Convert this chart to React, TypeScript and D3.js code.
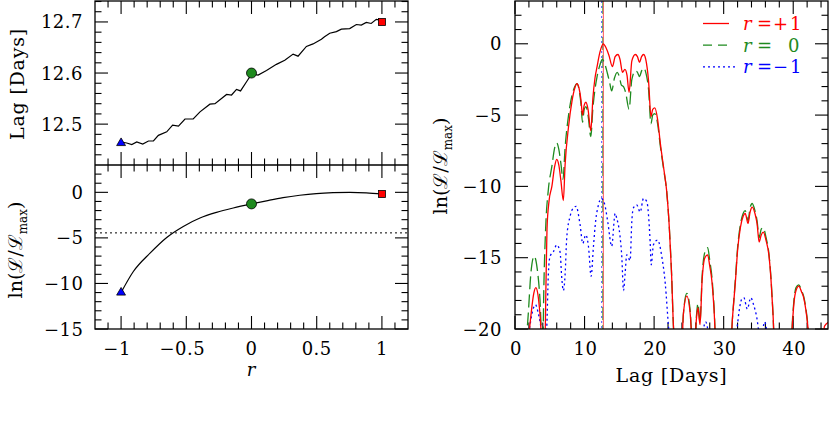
import React from 'react';
import * as d3 from 'd3';

// ---- left, upper panel: best lag as a function of r
const rTop = [-1, -0.957, -0.918, -0.88, -0.834, -0.79, -0.752, -0.714, -0.65, -0.605,
  -0.56, -0.51, -0.447, -0.395, -0.319, -0.28, -0.191, -0.153, -0.115, -0.084,
  -0.038, 0, 0.051, 0.115, 0.191, 0.255, 0.319, 0.357, 0.421, 0.472,
  0.536, 0.56, 0.6, 0.651, 0.689, 0.753, 0.804, 0.842, 0.88, 0.918, 0.957, 1];
const lagTop = [12.465, 12.463, 12.46, 12.465, 12.461, 12.467, 12.467, 12.478, 12.485, 12.498,
  12.496, 12.51, 12.51, 12.524, 12.539, 12.54, 12.558, 12.557, 12.568, 12.565,
  12.583, 12.598, 12.596, 12.605, 12.617, 12.625, 12.637, 12.633, 12.652, 12.657,
  12.666, 12.671, 12.678, 12.681, 12.686, 12.687, 12.695, 12.694, 12.699, 12.697, 12.705, 12.703];

// ---- left, lower panel: ln(L/Lmax) as a function of r
const rBot = [-1, -0.906, -0.778, -0.65, -0.523, -0.395, -0.268, -0.14, 0, 0.115, 0.242, 0.37, 0.497, 0.625, 0.753, 0.88, 1];
const lnLBot = [-11.0, -8.69, -6.67, -4.95, -3.74, -2.82, -2.2, -1.72, -1.27, -0.93, -0.58, -0.32, -0.14, -0.04, 0, -0.05, -0.18];
const cutLevel = -4.45;

// markers at r = -1, 0, +1
const markR = [-1, 0, 1];
const markLag = [12.463, 12.6, 12.7];
const markLnL = [-11.0, -1.27, -0.18];

// ---- right panel: ln(L/Lmax) vs lag for three r
const redLag = [1.9, 2.3, 2.7, 3.0, 3.3, 3.6, 3.9, 4.3, 4.45, 4.6, 4.9, 5.3, 5.7, 6.0, 6.3, 6.6, 6.95, 7.2, 7.7, 8.2,
  8.6, 8.9, 9.2, 9.5, 9.7, 9.95, 10.2, 10.5, 10.9, 11.2, 11.5, 11.8, 12.2, 12.7, 13.1, 13.5, 14.0, 14.4, 14.8, 15.1,
  15.45, 15.8, 16.1, 16.4, 16.8, 17.3, 17.6, 17.9, 18.2, 18.5, 18.8, 19.2, 19.55, 19.8, 20.1, 20.5, 20.9, 21.4, 21.8, 22.2,
  22.5, 22.8, 23.0, 24.0, 24.2, 24.7, 25.2, 25.5, 25.8, 26.1, 26.3, 26.6, 26.9, 27.3, 27.7, 28.0, 28.3, 28.6, 28.9, 31.0,
  31.3, 31.7, 32.0, 32.4, 32.8, 33.1, 33.5, 33.8, 34.1, 34.5, 34.8, 35.1, 35.4, 35.7, 36.1, 36.5, 36.8, 37.1, 37.3, 39.7,
  39.9, 40.1, 40.4, 40.8, 41.2, 41.5, 41.8, 42.1, 42.3, 44.2, 44.5, 45.2];
const redVal = [-21, -19, -17.5, -17.1, -17.6, -19, -21, -21, -17, -13, -11, -10.0, -8.6, -8.1, -8.5, -9.6, -11.0, -8.5, -5.8, -4.0,
  -3.1, -2.8, -3.1, -4.0, -5.0, -4.3, -4.1, -4.6, -6.1, -3.8, -2.4, -1.6, -0.6, 0, -0.3, -0.8, -1.6, -0.9, -0.75, -1.1,
  -2.0, -1.8, -2.2, -3.4, -1.2, -0.75, -0.9, -1.3, -0.9, -0.75, -1.1, -2.6, -5.1, -4.6, -4.5, -5.3, -7.0, -8.8, -10.3, -13,
  -16, -20, -21, -21, -19, -17.7, -19, -21, -21, -19.2, -18.5, -19.7, -16.6, -15.0, -14.8, -15.6, -16.6, -18.5, -21, -21,
  -19, -16.6, -14.5, -12.9, -12.1, -11.9, -12.6, -11.8, -11.45, -11.9, -12.6, -13.9, -13.4, -13.2, -13.8, -14.8, -16.5, -19, -21, -21,
  -19.5, -18.2, -17.3, -17.0, -17.4, -17.8, -18.6, -19.8, -21, -21, -19.8, -19.5];

const greenLag = [1.6, 1.9, 2.3, 2.75, 3.2, 3.6, 3.9, 4.0, 4.15, 4.4, 4.8, 5.3, 5.7, 6.0, 6.3, 6.6, 6.9, 7.2, 7.7, 8.2,
  8.6, 8.9, 9.2, 9.5, 9.7, 9.95, 10.2, 10.5, 10.9, 11.2, 11.5, 11.8, 12.2, 12.55, 12.9, 13.3, 13.6, 13.9, 14.3, 14.7,
  15.0, 15.3, 15.6, 15.9, 16.4, 16.8, 17.3, 17.6, 17.9, 18.2, 18.5, 18.8, 19.2, 19.55, 19.8, 20.1, 20.5, 20.9, 21.4, 21.8,
  22.2, 22.5, 22.8, 23.0, 24.0, 24.2, 24.7, 25.2, 25.5, 25.8, 26.1, 26.3, 26.6, 26.9, 27.3, 27.7, 28.0, 28.3, 28.6, 28.9,
  31.0, 31.3, 31.7, 32.0, 32.4, 32.8, 33.1, 33.5, 33.8, 34.1, 34.5, 34.8, 35.1, 35.4, 35.7, 36.1, 36.5, 36.8, 37.1, 37.3,
  39.7, 39.9, 40.1, 40.4, 40.8, 41.2, 41.5, 41.8, 42.1, 42.3];
const greenVal = [-21, -19, -16, -14.9, -15.8, -18, -21, -21, -17, -13, -10.2, -8.6, -7.3, -6.95, -7.4, -8.4, -9.5, -7.3, -5.0, -3.6,
  -3.0, -2.8, -3.2, -4.3, -5.5, -4.6, -4.4, -5.0, -6.5, -4.5, -3.2, -2.3, -1.5, -1.1, -1.4, -2.1, -2.7, -3.3, -2.4, -2.0,
  -2.3, -2.9, -3.0, -3.4, -4.6, -2.5, -1.9, -2.0, -2.3, -1.9, -1.7, -2.0, -3.2, -5.6, -5.0, -4.9, -5.6, -7.2, -8.9, -10.3,
  -13, -16, -20, -21, -21, -19, -17.5, -18.8, -21, -21, -19, -18.2, -19.5, -16.3, -14.6, -14.3, -15.2, -16.3, -18.3, -21,
  -21, -19, -16.4, -14.3, -12.7, -11.9, -11.7, -12.4, -11.5, -11.2, -11.7, -12.4, -13.6, -13.0, -12.9, -13.6, -14.7, -16.4, -19, -21,
  -21, -19.3, -18.0, -17.1, -16.9, -17.3, -17.7, -18.5, -19.7, -21];

const blueLag = [1.8, 2.2, 2.6, 2.95, 3.3, 3.7, 4.0, 4.45, 4.56, 4.8, 5.04, 5.5, 6.0, 6.48, 6.72, 6.96, 7.2, 7.44, 7.92, 8.4,
  8.78, 9.36, 9.74, 10.17, 10.56, 10.94, 11.28, 11.6, 12.0, 12.38, 12.86, 13.34, 13.9, 14.4, 14.63, 15.1, 15.35, 15.6, 15.83, 16.07,
  16.55, 16.8, 17.03, 17.5, 18.0, 18.47, 18.95, 19.43, 19.58, 19.9, 20.5, 21.1, 21.6, 22.1, 22.3, 26.8, 27.1, 27.4, 27.7, 27.9,
  31.6, 31.9, 32.3, 32.6, 32.9, 33.4, 33.9, 34.3, 34.8, 35.1, 35.4, 35.9, 36.2, 36.4];
const blueVal = [-21, -19.6, -18.6, -18.3, -18.8, -19.8, -21, -21, -20, -16.1, -14.9, -14.6, -14.1, -14.6, -16.4, -17.3, -16.2, -13.6, -12.1, -11.5,
  -11.4, -12.7, -14.0, -13.4, -14.2, -16.3, -14.2, -12.4, -11.3, -10.84, -11.2, -12.5, -14.2, -11.9, -12.24, -13.5, -14.9, -17.3, -16.1, -14.8,
  -15.2, -12.4, -11.5, -11.3, -11.8, -10.84, -11.07, -13.9, -15.5, -14.1, -13.76, -14.9, -16.8, -20, -21, -21, -20.0, -19.5, -20.0, -21,
  -21, -20, -18.5, -17.9, -17.8, -18.6, -17.8, -18.3, -19.3, -20.3, -20.5, -19.5, -20.2, -21];

// best lags marked by vertical lines
const bestLags = [12.7, 12.6, 12.46];

const seriesColors = ['#ff0000', '#1e8a1e', '#0000ff'];
const seriesDash = [null, '13,5', '2,3'];
const legendSign = ['+', '', '\u2212'];
const legendDigit = ['1', '0', '1'];

const FONT = 'DejaVu Serif';
const MINUS = '\u2212';
const fmt = (v: number) => (v < 0 ? MINUS + String(-v) : String(v));

const range = (a: number, b: number, s: number) => {
  const out: number[] = [];
  for (let i = 0; a + i * s <= b + 1e-9; i++) out.push(+(a + i * s).toFixed(6));
  return out;
};

export default function App() {
  // scales
  const xL = d3.scaleLinear().domain([-1.2, 1.2]).range([95, 408]);
  const yTop = d3.scaleLinear().domain([12.42, 12.741]).range([165, 1]);
  const yBot = d3.scaleLinear().domain([-15, 3]).range([329, 165]);
  const xR = d3.scaleLinear().domain([0, 45]).range([515, 828]);
  const yR = d3.scaleLinear().domain([-20, 3]).range([329, 1]);

  const L = { x0: 95, x1: 408, yt: 1, ym: 165, yb: 329 };
  const R = { x0: 515, x1: 828, yt: 1, yb: 329 };
  const MAJ = 13, MIN = 6.5;

  const topLine = d3.line<number>().x((_, i) => xL(rTop[i])).y(d => yTop(d));
  const botLine = d3.line<number>().x((_, i) => xL(rBot[i])).y(d => yBot(d)).curve(d3.curveMonotoneX);

  const rightLine = (lags: number[]) =>
    d3.line<number>().x((_, i) => xR(lags[i])).y(d => yR(d)).curve(d3.curveMonotoneX);

  const series = [
    { lag: redLag, val: redVal },
    { lag: greenLag, val: greenVal },
    { lag: blueLag, val: blueVal },
  ];

  // tick helpers
  const yTicks = (vals: number[], y: (v: number) => number, x0: number, x1: number, len: number, key: string) =>
    vals.map(v => (
      <g key={key + v}>
        <line x1={x0} x2={x0 + len} y1={y(v)} y2={y(v)} />
        <line x1={x1} x2={x1 - len} y1={y(v)} y2={y(v)} />
      </g>
    ));
  const xTicks = (vals: number[], x: (v: number) => number, y0: number, y1: number, len: number, key: string) =>
    vals.map(v => (
      <g key={key + v}>
        <line x1={x(v)} x2={x(v)} y1={y0} y2={y0 + len} />
        <line x1={x(v)} x2={x(v)} y1={y1} y2={y1 - len} />
      </g>
    ));

  const lMajX = [-1, -0.5, 0, 0.5, 1];
  const lMinX = range(-1.1, 1.1, 0.1).filter(v => !lMajX.some(m => Math.abs(m - v) < 1e-6));
  const topMajY = [12.5, 12.6, 12.7];
  const topMinY = range(12.44, 12.74, 0.02).filter(v => !topMajY.some(m => Math.abs(m - v) < 1e-6));
  const botMajY = [-15, -10, -5, 0];
  const botMinY = range(-14, 2, 1).filter(v => !botMajY.includes(v));
  const rMajX = [0, 10, 20, 30, 40];
  const rMinX = range(2, 44, 2).filter(v => !rMajX.includes(v));
  const rMajY = [-20, -15, -10, -5, 0];
  const rMinY = range(-19, 2, 1).filter(v => !rMajY.includes(v));

  return (
    <svg width={830} height={424} style={{ position: 'absolute', left: 0, top: 0, background: '#fff' }}
      fontFamily={FONT} fontSize={18}>
      <defs>
        <clipPath id="clipR">
          <rect x={R.x0} y={R.yt} width={R.x1 - R.x0} height={R.yb - R.yt} />
        </clipPath>
      </defs>
      <rect width={830} height={424} fill="#fff" />

      {/* ---------- left panels ---------- */}
      <g stroke="#000" strokeWidth={1.1}>
        {yTicks(topMajY, yTop, L.x0, L.x1, MAJ, 'tM')}
        {yTicks(topMinY, yTop, L.x0, L.x1, MIN, 'tm')}
        {yTicks(botMajY, yBot, L.x0, L.x1, MAJ, 'bM')}
        {yTicks(botMinY, yBot, L.x0, L.x1, MIN, 'bm')}
        {xTicks(lMajX, xL, L.yt, L.ym, MAJ, 'xtM')}
        {xTicks(lMinX, xL, L.yt, L.ym, MIN, 'xtm')}
        {xTicks(lMajX, xL, L.ym, L.yb, MAJ, 'xbM')}
        {xTicks(lMinX, xL, L.ym, L.yb, MIN, 'xbm')}
      </g>

      <path d={topLine(lagTop) || ''} fill="none" stroke="#000" strokeWidth={1.2} />
      <path d={botLine(lnLBot) || ''} fill="none" stroke="#000" strokeWidth={1.2} />
      <line x1={L.x0} x2={L.x1} y1={yBot(cutLevel)} y2={yBot(cutLevel)} stroke="#000" strokeWidth={1} strokeDasharray="2,3" />

      {[0, 1].map(panel => {
        const y = panel === 0 ? yTop : yBot;
        const vals = panel === 0 ? markLag : markLnL;
        return markR.map((r, i) => {
          const cx = xL(r), cy = y(vals[i]);
          if (i === 0) {
            return <path key={`m${panel}${i}`} d={d3.symbol(d3.symbolTriangle, 34)() || ''}
              transform={`translate(${cx},${cy})`} fill={seriesColors[2]} stroke="#000" strokeWidth={0.8} />;
          }
          if (i === 1) {
            return <circle key={`m${panel}${i}`} cx={cx} cy={cy} r={5} fill={seriesColors[1]} stroke="#000" strokeWidth={0.8} />;
          }
          return <rect key={`m${panel}${i}`} x={cx - 3.5} y={cy - 3.5} width={7} height={7} fill={seriesColors[0]} stroke="#000" strokeWidth={0.8} />;
        });
      })}

      <rect x={L.x0} y={L.yt} width={L.x1 - L.x0} height={L.yb - L.yt} fill="none" stroke="#000" strokeWidth={1.3} />
      <line x1={L.x0} x2={L.x1} y1={L.ym} y2={L.ym} stroke="#000" strokeWidth={1.3} />

      {/* left tick labels */}
      {topMajY.map(v => (
        <text key={'lt' + v} x={83} y={yTop(v) + 6.5} textAnchor="end" letterSpacing={0.5}>{v.toFixed(1)}</text>
      ))}
      {botMajY.map(v => (
        <text key={'lb' + v} x={83.5} y={yBot(v) + 6.5} textAnchor="end" letterSpacing={0.5}>{fmt(v)}</text>
      ))}
      {lMajX.map(v => (
        <text key={'lx' + v} x={xL(v) + (v < 0 ? -4 : 0)} y={355} textAnchor="middle" letterSpacing={0.5}>{fmt(v)}</text>
      ))}
      <text x={251} y={376} textAnchor="middle" fontStyle="italic">r</text>

      <text transform="translate(24,84) rotate(-90)" textAnchor="middle" fontSize={19} letterSpacing={0.8}>Lag [Days]</text>
      <text transform="translate(22,250) rotate(-90)" textAnchor="middle" fontSize={19}>
        ln(ℒ/ℒ<tspan fontSize={12} dy={5}>max</tspan><tspan dy={-5}>)</tspan>
      </text>

      {/* ---------- right panel ---------- */}
      <g stroke="#000" strokeWidth={1.1}>
        {yTicks(rMajY, yR, R.x0, R.x1, MAJ, 'rM')}
        {yTicks(rMinY, yR, R.x0, R.x1, MIN, 'rm')}
        {xTicks(rMajX, xR, R.yt, R.yb, MAJ, 'rxM')}
        {xTicks(rMinX, xR, R.yt, R.yb, MIN, 'rxm')}
      </g>

      <g clipPath="url(#clipR)">
        {bestLags.map((lg, i) => (
          <line key={'v' + i} x1={xR(lg)} x2={xR(lg)} y1={R.yt} y2={R.yb}
            stroke={seriesColors[i]} strokeWidth={0.8} strokeDasharray={seriesDash[i] || undefined} opacity={0.85} />
        ))}
        {[2, 1, 0].map(i => (
          <path key={'s' + i} d={rightLine(series[i].lag)(series[i].val) || ''} fill="none"
            stroke={seriesColors[i]} strokeWidth={1.3} strokeDasharray={seriesDash[i] || undefined} />
        ))}
      </g>

      <rect x={R.x0} y={R.yt} width={R.x1 - R.x0} height={R.yb - R.yt} fill="none" stroke="#000" strokeWidth={1.3} />

      {rMajY.map(v => (
        <text key={'ry' + v} x={502} y={yR(v) + 6.5} textAnchor="end" letterSpacing={0.5}>{fmt(v)}</text>
      ))}
      {rMajX.map(v => (
        <text key={'rx' + v} x={xR(v) + 1} y={355} textAnchor="middle" letterSpacing={0.5}>{v}</text>
      ))}
      <text x={671.5} y={382} textAnchor="middle" fontSize={19} letterSpacing={0.8}>Lag [Days]</text>
      <text transform="translate(447,166) rotate(-90)" textAnchor="middle" fontSize={19}>
        ln(ℒ/ℒ<tspan fontSize={12} dy={5}>max</tspan><tspan dy={-5}>)</tspan>
      </text>

      {/* legend */}
      {seriesColors.map((c, i) => {
        const base = 30 + i * 21.7;
        return (
          <g key={'lg' + i} fill={c}>
            <line x1={703} x2={i === 2 ? 738 : 729} y1={base - 6.5} y2={base - 6.5} stroke={c} strokeWidth={1.3}
              strokeDasharray={seriesDash[i] ? (i === 1 ? '9,6' : '2,3') : undefined} />
            <text x={743} y={base} fontStyle="italic">r</text>
            <text x={757} y={base}>=</text>
            {legendSign[i] && <text x={773} y={base}>{legendSign[i]}</text>}
            <text x={i === 1 ? 788 : 790} y={base}>{legendDigit[i]}</text>
          </g>
        );
      })}
    </svg>
  );
}
